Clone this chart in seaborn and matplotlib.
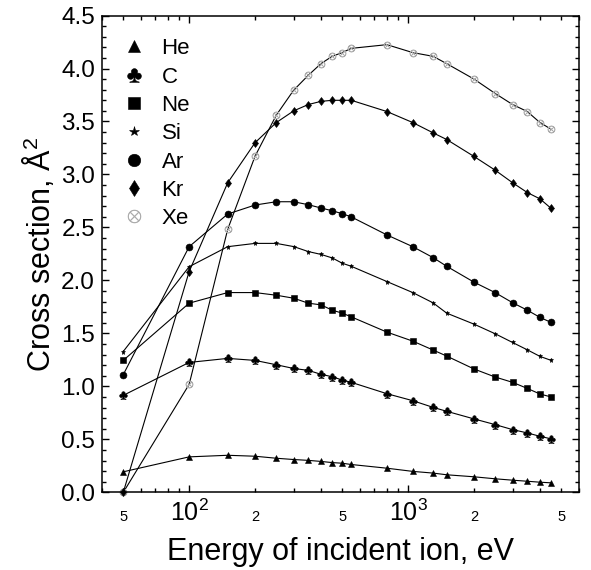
import matplotlib
matplotlib.use("Agg")
import matplotlib.pyplot as plt
from matplotlib.lines import Line2D
from matplotlib.ticker import FixedLocator, FixedFormatter, MultipleLocator, FormatStrFormatter
import seaborn as sns
import pandas as pd

energy = [50, 100, 150, 200, 250, 300, 350, 400, 450, 500, 550, 800, 1050,
          1300, 1500, 2000, 2500, 3000, 3500, 4000, 4500]
he = [0.195, 0.336, 0.351, 0.342, 0.323, 0.311, 0.303, 0.293, 0.282, 0.276, 0.264,
      0.229, 0.199, 0.183, 0.167, 0.148, 0.129, 0.116, 0.106, 0.097, 0.091]
c = [0.916, 1.227, 1.265, 1.246, 1.205, 1.17, 1.152, 1.115, 1.092, 1.061, 1.039,
     0.932, 0.866, 0.803, 0.766, 0.694, 0.64, 0.593, 0.562, 0.53, 0.506]
ne = [1.246, 1.786, 1.886, 1.886, 1.861, 1.833, 1.786, 1.77, 1.72, 1.692, 1.657,
      1.513, 1.428, 1.344, 1.287, 1.165, 1.089, 1.039, 0.982, 0.929, 0.901]
si = [1.33, 2.13, 2.319, 2.35, 2.35, 2.32, 2.273, 2.246, 2.213, 2.163, 2.134,
      1.99, 1.886, 1.789, 1.692, 1.588, 1.497, 1.415, 1.346, 1.284, 1.246]
ar = [1.111, 2.319, 2.627, 2.712, 2.743, 2.743, 2.715, 2.684, 2.658, 2.63, 2.60,
      2.43, 2.319, 2.216, 2.134, 1.984, 1.885, 1.79, 1.72, 1.652, 1.604]
kr = [0.0, 2.084, 2.922, 3.30, 3.49, 3.60, 3.66, 3.69, 3.70, 3.70, 3.70,
      3.594, 3.49, 3.393, 3.33, 3.17, 3.04, 2.922, 2.83, 2.77, 2.68]
xe = [0.0, 1.02, 2.483, 3.173, 3.56, 3.795, 3.936, 4.046, 4.115, 4.15, 4.19,
      4.225, 4.15, 4.115, 4.046, 3.90, 3.764, 3.66, 3.594, 3.49, 3.427]
labels = ["He", "C", "Ne", "Si", "Ar", "Kr", "Xe"]

sns.set_theme(style="ticks")
plt.rcParams["font.family"] = ["Liberation Sans", "DejaVu Sans"]
plt.rcParams["mathtext.fontset"] = "custom"
plt.rcParams["mathtext.rm"] = "Liberation Sans"
for k in ["text.color", "axes.labelcolor", "xtick.color", "ytick.color", "axes.edgecolor"]:
    plt.rcParams[k] = "black"

fig = plt.figure(figsize=(5.91, 5.70), dpi=100)
ax = fig.add_axes([0.1726, 0.1360, 0.8063, 0.8368])

series = [he, c, ne, si, ar, kr, xe]
styles = [
    dict(marker="^", markersize=4.4, mfc="black", mec="black"),
    dict(marker=r"$\clubsuit$", markersize=5.5, mfc="black", mec="black"),
    dict(marker="s", markersize=5.0, mfc="black", mec="black"),
    dict(marker="*", markersize=3.6, mfc="black", mec="black"),
    dict(marker="o", markersize=5.0, mfc="black", mec="black"),
    dict(marker="d", markersize=4.4, mfc="black", mec="black"),
    dict(marker=r"$\otimes$", markersize=5.2, mfc="#ababab", mec="#ababab"),
]
zorders = [3, 3, 3, 3, 3, 4, 2.5]
legend_scale = [1.9, 1.8, 1.75, 1.9, 1.8, 1.9, 1.8]

for lab, vals, st, z in zip(labels, series, styles, zorders):
    df = pd.DataFrame({"energy": energy, "sigma": vals})
    sns.lineplot(data=df, x="energy", y="sigma", ax=ax, color="black",
                 linewidth=0.8, marker=st["marker"], markersize=st["markersize"],
                 markerfacecolor=st["mfc"], markeredgecolor=st["mec"],
                 markeredgewidth=0.4, sort=False, legend=False, zorder=z,
                 clip_on=False)

ax.set_xscale("log")
ax.set_xlim(40, 6000)
ax.set_ylim(0, 4.5)

ax.xaxis.set_major_locator(FixedLocator([100, 1000]))
ax.xaxis.set_major_formatter(FixedFormatter([r"$10^2$", r"$10^3$"]))
minor = [m * d for d in (10, 100, 1000) for m in range(2, 10)]
minor = [v for v in minor if 40 <= v <= 6000]
ax.xaxis.set_minor_locator(FixedLocator(minor))
minor_lab = {50: "5", 200: "2", 500: "5", 2000: "2", 5000: "5"}
ax.xaxis.set_minor_formatter(FixedFormatter([minor_lab.get(v, "") for v in minor]))

ax.yaxis.set_major_locator(MultipleLocator(0.5))
ax.yaxis.set_minor_locator(MultipleLocator(0.1))
ax.yaxis.set_major_formatter(FormatStrFormatter("%.1f"))

ax.tick_params(axis="both", which="both", direction="in", color="black")
ax.tick_params(axis="y", which="major", length=4.8, width=1, right=True, labelsize=17.5, pad=5)
ax.tick_params(axis="y", which="minor", length=2.9, width=1, right=True)
ax.tick_params(axis="x", which="major", length=4.8, width=1, top=True, labelsize=18, pad=5)
ax.tick_params(axis="x", which="minor", length=2.9, width=1, top=True, labelsize=10.5, pad=12.5)

for s in ax.spines.values():
    s.set_color("black")
    s.set_linewidth(1.1)

ax.set_xlabel("Energy of incident ion, eV", fontsize=22, labelpad=8)
ax.set_ylabel("Cross section, Å$^2$", fontsize=22, labelpad=3)

handles = [Line2D([], [], linestyle="none", marker=st["marker"],
                  markersize=st["markersize"] * sc, markerfacecolor=st["mfc"],
                  markeredgecolor=st["mec"], markeredgewidth=0.4)
           for st, sc in zip(styles, legend_scale)]
ax.legend(handles, labels, loc="upper left", frameon=False, fontsize=16,
          labelspacing=0.33, handletextpad=0.63, handlelength=1.2,
          borderaxespad=0.0, bbox_to_anchor=(0.021, 0.971))

fig.savefig("out.png", dpi=100)
